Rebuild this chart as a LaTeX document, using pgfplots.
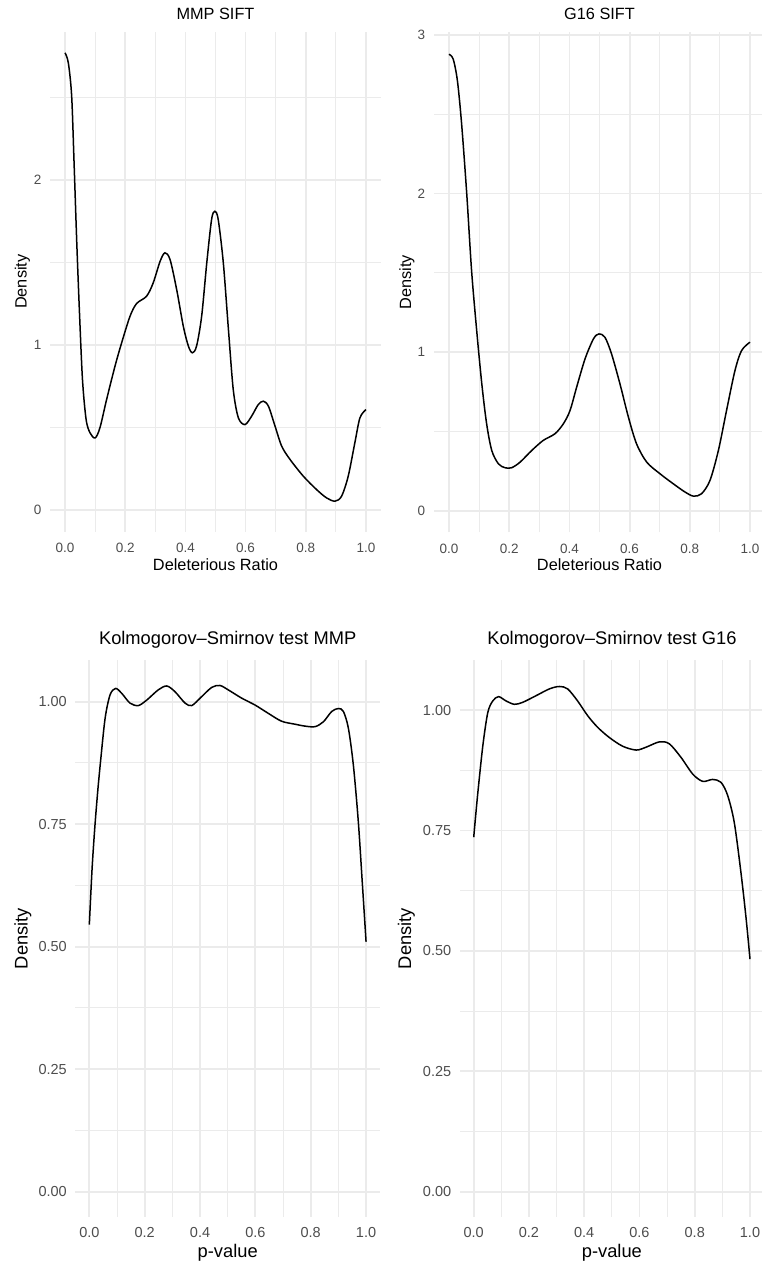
\documentclass[border=0pt]{standalone}
\usepackage{fontspec}
\setmainfont{Liberation Sans}
\usepackage{pgfplots}
\pgfplotsset{compat=1.18}

\definecolor{gridc}{HTML}{EBEBEB}
\definecolor{tickc}{HTML}{4D4D4D}

% upper row (SIFT densities)
\newcommand{\tickA}{\fontsize{13.5}{15}\selectfont}
\newcommand{\titleA}{\fontsize{16.3}{19}\selectfont}
\newcommand{\labA}{\fontsize{16.3}{19}\selectfont}
% lower row (KS p-value densities)
\newcommand{\tickB}{\fontsize{14.5}{16}\selectfont}
\newcommand{\titleB}{\fontsize{18.3}{21}\selectfont}
\newcommand{\labB}{\fontsize{18.3}{21}\selectfont}

\pgfplotsset{
  dens/.style={
    scale only axis,
    axis line style={draw=none},
    major tick length=0pt, minor tick length=0pt,
    tick style={draw=none},
    grid=both,
    major grid style={color=gridc, line width=1.8pt},
    minor grid style={color=gridc, line width=1.0pt},
    xmin=-0.05, xmax=1.05,
    xtick={0,0.2,0.4,0.6,0.8,1},
    xticklabels={0.0,0.2,0.4,0.6,0.8,1.0},
    minor xtick={0.1,0.3,0.5,0.7,0.9},
    ticklabel style={text=tickc},
    yticklabel style={anchor=east, inner sep=0pt, xshift=-8.5pt},
    xticklabel style={anchor=north, inner sep=0pt},
  },
  dcurve/.style={black, line width=1.5pt, smooth, no marks},
}

\begin{document}
\begin{tikzpicture}[x=1pt,y=1pt]
\useasboundingbox (0,0) rectangle (761,1264);

% ---------- MMP SIFT ----------
\begin{axis}[dens, at={(50pt,732.3pt)}, anchor=south west,
  width=331pt, height=500pt, ymin=-0.13, ymax=2.90,
  ticklabel style={font=\tickA},
  ytick={0,1,2}, yticklabels={0,1,2}, minor ytick={0.5,1.5,2.5},
  xticklabel style={yshift=-11.2pt}]
\addplot[dcurve] table {
0.000 2.772
0.011 2.71
0.022 2.51
0.030 2.105
0.039 1.62
0.048 1.196
0.058 0.79
0.070 0.55
0.083 0.469
0.100 0.438
0.116 0.50
0.138 0.67
0.166 0.873
0.188 1.014
0.216 1.176
0.238 1.253
0.271 1.297
0.293 1.378
0.316 1.509
0.332 1.56
0.349 1.519
0.371 1.337
0.393 1.115
0.410 0.994
0.423 0.954
0.437 0.994
0.454 1.176
0.471 1.499
0.487 1.762
0.498 1.812
0.509 1.762
0.526 1.499
0.543 1.095
0.559 0.731
0.576 0.56
0.598 0.519
0.620 0.57
0.642 0.64
0.659 0.661
0.676 0.63
0.698 0.509
0.720 0.388
0.748 0.307
0.792 0.206
0.836 0.125
0.869 0.075
0.897 0.055
0.919 0.085
0.941 0.206
0.963 0.408
0.980 0.56
1.000 0.61
};
\end{axis}

% ---------- G16 SIFT ----------
\begin{axis}[dens, at={(433.95pt,731.5pt)}, anchor=south west,
  width=331.1pt, height=500.8pt, ymin=-0.135, ymax=3.02,
  ticklabel style={font=\tickA},
  ytick={0,1,2,3}, yticklabels={0,1,2,3}, minor ytick={0.5,1.5,2.5},
  xticklabel style={yshift=-11.2pt}]
\addplot[dcurve] table {
0.000 2.878
0.014 2.847
0.028 2.71
0.042 2.437
0.059 1.997
0.075 1.515
0.092 1.137
0.109 0.801
0.125 0.55
0.142 0.382
0.164 0.298
0.186 0.273
0.208 0.273
0.236 0.308
0.275 0.382
0.313 0.445
0.352 0.487
0.380 0.55
0.402 0.633
0.424 0.78
0.452 0.959
0.480 1.085
0.498 1.116
0.518 1.095
0.540 0.99
0.568 0.801
0.596 0.592
0.623 0.424
0.657 0.308
0.701 0.235
0.745 0.172
0.784 0.12
0.812 0.094
0.839 0.109
0.867 0.193
0.895 0.382
0.922 0.633
0.950 0.885
0.972 1.011
1.000 1.064
};
\end{axis}

% ---------- KS test MMP ----------
\begin{axis}[dens, at={(75.5pt,47pt)}, anchor=south west,
  width=304.4pt, height=557pt, ymin=-0.0517, ymax=1.085,
  ticklabel style={font=\tickB},
  ytick={0,0.25,0.5,0.75,1}, yticklabels={0.00,0.25,0.50,0.75,1.00},
  minor ytick={0.125,0.375,0.625,0.875},
  xticklabel style={yshift=-10pt}]
\addplot[dcurve] table {
0.000 0.545
0.010 0.66
0.020 0.745
0.030 0.815
0.040 0.875
0.057 0.966
0.075 1.014
0.095 1.027
0.117 1.017
0.147 0.997
0.177 0.992
0.207 1.003
0.249 1.024
0.280 1.032
0.310 1.02
0.346 0.997
0.370 0.992
0.400 1.007
0.442 1.029
0.472 1.033
0.502 1.024
0.551 1.007
0.599 0.993
0.647 0.976
0.695 0.96
0.743 0.954
0.780 0.95
0.816 0.949
0.846 0.959
0.876 0.98
0.900 0.986
0.918 0.98
0.936 0.946
0.954 0.871
0.972 0.755
0.987 0.625
1.000 0.51
};
\end{axis}

% ---------- KS test G16 ----------
\begin{axis}[dens, at={(459.9pt,47pt)}, anchor=south west,
  width=303.9pt, height=557pt, ymin=-0.0525, ymax=1.104,
  ticklabel style={font=\tickB},
  ytick={0,0.25,0.5,0.75,1}, yticklabels={0.00,0.25,0.50,0.75,1.00},
  minor ytick={0.125,0.375,0.625,0.875},
  xticklabel style={yshift=-10pt}]
\addplot[dcurve] table {
0.000 0.736
0.014 0.823
0.033 0.926
0.051 0.995
0.069 1.019
0.090 1.028
0.117 1.019
0.147 1.012
0.177 1.016
0.226 1.03
0.274 1.044
0.310 1.049
0.340 1.044
0.376 1.019
0.413 0.988
0.449 0.964
0.491 0.943
0.539 0.925
0.588 0.917
0.624 0.923
0.672 0.934
0.708 0.93
0.750 0.902
0.793 0.867
0.829 0.852
0.865 0.856
0.895 0.85
0.919 0.823
0.943 0.767
0.967 0.664
0.986 0.567
1.000 0.483
};
\end{axis}

% ---------- titles and axis titles ----------
\node[anchor=base, font=\titleA] at (215.5,1244.7) {MMP SIFT};
\node[anchor=base, font=\titleA] at (599.5,1244.7) {G16 SIFT};
\node[anchor=base, font=\titleB] at (227.7,619.7) {Kolmogorov–Smirnov test MMP};
\node[anchor=base, font=\titleB] at (611.9,619.7) {Kolmogorov–Smirnov test G16};

\node[anchor=base, font=\labA] at (215.5,693.3) {Deleterious Ratio};
\node[anchor=base, font=\labA] at (599.5,693.3) {Deleterious Ratio};
\node[anchor=base, font=\labB] at (227.7,6.7) {p-value};
\node[anchor=base, font=\labB] at (611.9,6.7) {p-value};

\node[anchor=base, rotate=90, font=\labA] at (26.5,982.3) {Density};
\node[anchor=base, rotate=90, font=\labA] at (411,981.9) {Density};
\node[anchor=base, rotate=90, font=\labB] at (27.5,325.5) {Density};
\node[anchor=base, rotate=90, font=\labB] at (411,325.5) {Density};
\end{tikzpicture}
\end{document}
